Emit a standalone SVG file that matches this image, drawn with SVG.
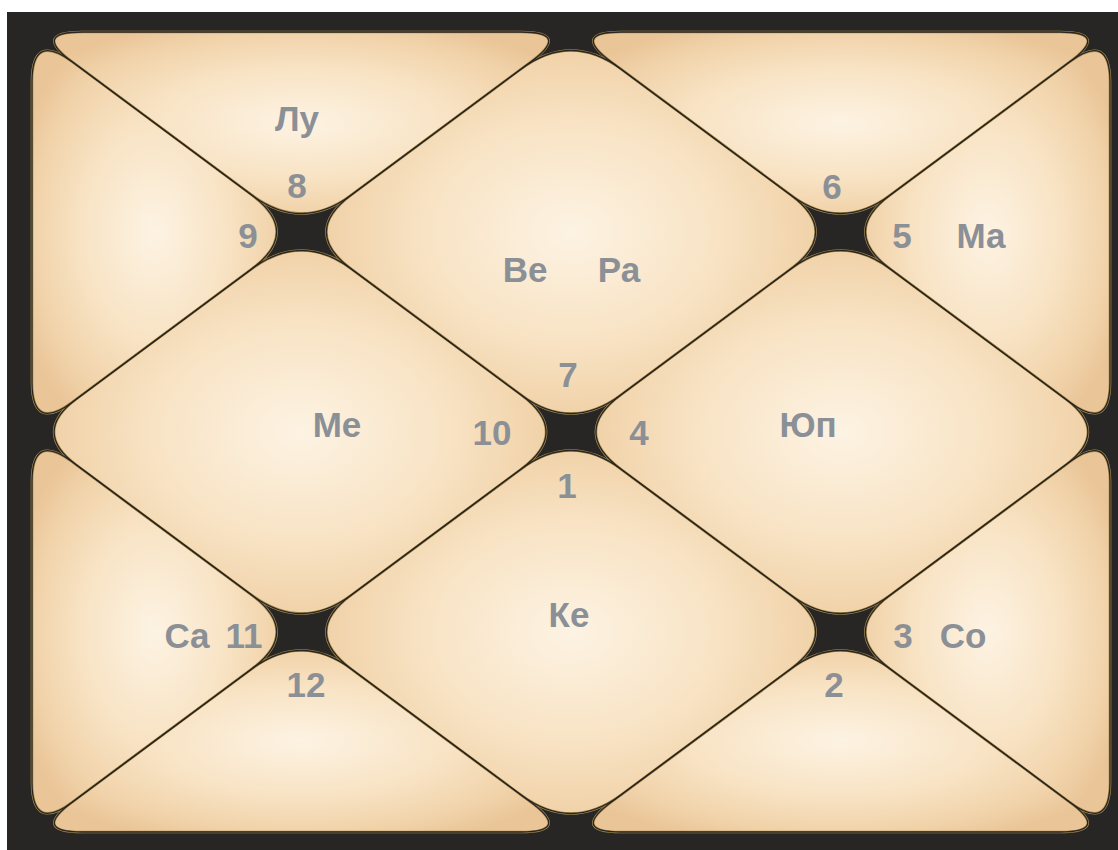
<svg xmlns="http://www.w3.org/2000/svg" xmlns:xlink="http://www.w3.org/1999/xlink" width="1118" height="850" viewBox="0 0 1118 850">
<defs>
<radialGradient id="g" cx="50%" cy="50%" r="60%">
<stop offset="0" stop-color="#fdf3e3"/>
<stop offset="0.5" stop-color="#f8e3c4"/>
<stop offset="0.82" stop-color="#f1d3aa"/>
<stop offset="1" stop-color="#eac598"/>
</radialGradient>
<style>
.r{fill:url(#g);stroke:#a88f58;stroke-width:2.6;stroke-linejoin:round}
.k{fill:none;stroke:#2a251d;stroke-width:1.3;stroke-linejoin:round}
text{font-family:"Liberation Sans",Arial,sans-serif;font-weight:bold;font-size:35px;fill:#8b9097;text-anchor:middle}
</style>
<path id="p8" d="M 82,32 L 521,32 Q 571,32 530.85,61.8 L 351.29,195.05 Q 301.5,232 251.71,195.05 L 72.15,61.8 Q 32,32 82,32 Z"/>
<path id="p6" d="M 1060,32 L 621,32 Q 571,32 611.15,61.8 L 790.71,195.05 Q 840.5,232 890.29,195.05 L 1069.85,61.8 Q 1110,32 1060,32 Z"/>
<path id="p9" d="M 32,82 Q 32,32 72.15,61.8 L 251.71,195.05 Q 301.5,232 251.71,268.95 L 72.15,402.2 Q 32,432 32,382 Z"/>
<path id="p11" d="M 32,782 Q 32,832 72.15,802.2 L 251.71,668.95 Q 301.5,632 251.71,595.05 L 72.15,461.8 Q 32,432 32,482 Z"/>
<path id="p12" d="M 82,832 L 521,832 Q 571,832 530.85,802.2 L 351.29,668.95 Q 301.5,632 251.71,668.95 L 72.15,802.2 Q 32,832 82,832 Z"/>
<path id="p2" d="M 1060,832 L 621,832 Q 571,832 611.15,802.2 L 790.71,668.95 Q 840.5,632 890.29,668.95 L 1069.85,802.2 Q 1110,832 1060,832 Z"/>
<path id="p5" d="M 1110,82 Q 1110,32 1069.85,61.8 L 890.29,195.05 Q 840.5,232 890.29,268.95 L 1069.85,402.2 Q 1110,432 1110,382 Z"/>
<path id="p3" d="M 1110,782 Q 1110,832 1069.85,802.2 L 890.29,668.95 Q 840.5,632 890.29,595.05 L 1069.85,461.8 Q 1110,432 1110,482 Z"/>
<path id="p7" d="M 620.79,68.95 L 790.71,195.05 Q 840.5,232 790.71,268.95 L 620.79,395.05 Q 571,432 521.21,395.05 L 351.29,268.95 Q 301.5,232 351.29,195.05 L 521.21,68.95 Q 571,32 620.79,68.95 Z"/>
<path id="p1" d="M 620.79,795.05 L 790.71,668.95 Q 840.5,632 790.71,595.05 L 620.79,468.95 Q 571,432 521.21,468.95 L 351.29,595.05 Q 301.5,632 351.29,668.95 L 521.21,795.05 Q 571,832 620.79,795.05 Z"/>
<path id="p10" d="M 76.17,399.23 L 251.71,268.95 Q 301.5,232 351.29,268.95 L 521.21,395.05 Q 571,432 521.21,468.95 L 351.29,595.05 Q 301.5,632 251.71,595.05 L 76.17,464.77 Q 32,432 76.17,399.23 Z"/>
<path id="p4" d="M 1065.83,399.23 L 890.29,268.95 Q 840.5,232 790.71,268.95 L 620.79,395.05 Q 571,432 620.79,468.95 L 790.71,595.05 Q 840.5,632 890.29,595.05 L 1065.83,464.77 Q 1110,432 1065.83,399.23 Z"/>
</defs>
<rect x="7" y="12" width="1111" height="838" fill="#282624"/>
<g id="house8"><use xlink:href="#p8" class="r"/><text x="297" y="131">Лу</text><text x="297" y="198">8</text></g>
<g id="house6"><use xlink:href="#p6" class="r"/><text x="832" y="199">6</text></g>
<g id="house9"><use xlink:href="#p9" class="r"/><text x="248" y="248">9</text></g>
<g id="house11"><use xlink:href="#p11" class="r"/><text x="187" y="648">Са</text><text x="244" y="648">11</text></g>
<g id="house12"><use xlink:href="#p12" class="r"/><text x="306" y="697">12</text></g>
<g id="house2"><use xlink:href="#p2" class="r"/><text x="834" y="697">2</text></g>
<g id="house5"><use xlink:href="#p5" class="r"/><text x="902" y="248">5</text><text x="981" y="248">Ма</text></g>
<g id="house3"><use xlink:href="#p3" class="r"/><text x="903" y="648">3</text><text x="963" y="648">Со</text></g>
<g id="house7"><use xlink:href="#p7" class="r"/><text x="525" y="282">Ве</text><text x="619" y="282">Ра</text><text x="568" y="387">7</text></g>
<g id="house1"><use xlink:href="#p1" class="r"/><text x="569" y="627">Ке</text><text x="567" y="498">1</text></g>
<g id="house10"><use xlink:href="#p10" class="r"/><text x="337" y="437">Ме</text><text x="492" y="445">10</text></g>
<g id="house4"><use xlink:href="#p4" class="r"/><text x="808" y="437">Юп</text><text x="639" y="445">4</text></g>
<g id="connectors">
<use xlink:href="#p8" class="k"/><use xlink:href="#p6" class="k"/><use xlink:href="#p9" class="k"/><use xlink:href="#p11" class="k"/>
<use xlink:href="#p12" class="k"/><use xlink:href="#p2" class="k"/><use xlink:href="#p5" class="k"/><use xlink:href="#p3" class="k"/>
<use xlink:href="#p7" class="k"/><use xlink:href="#p1" class="k"/><use xlink:href="#p10" class="k"/><use xlink:href="#p4" class="k"/>
</g>
</svg>
